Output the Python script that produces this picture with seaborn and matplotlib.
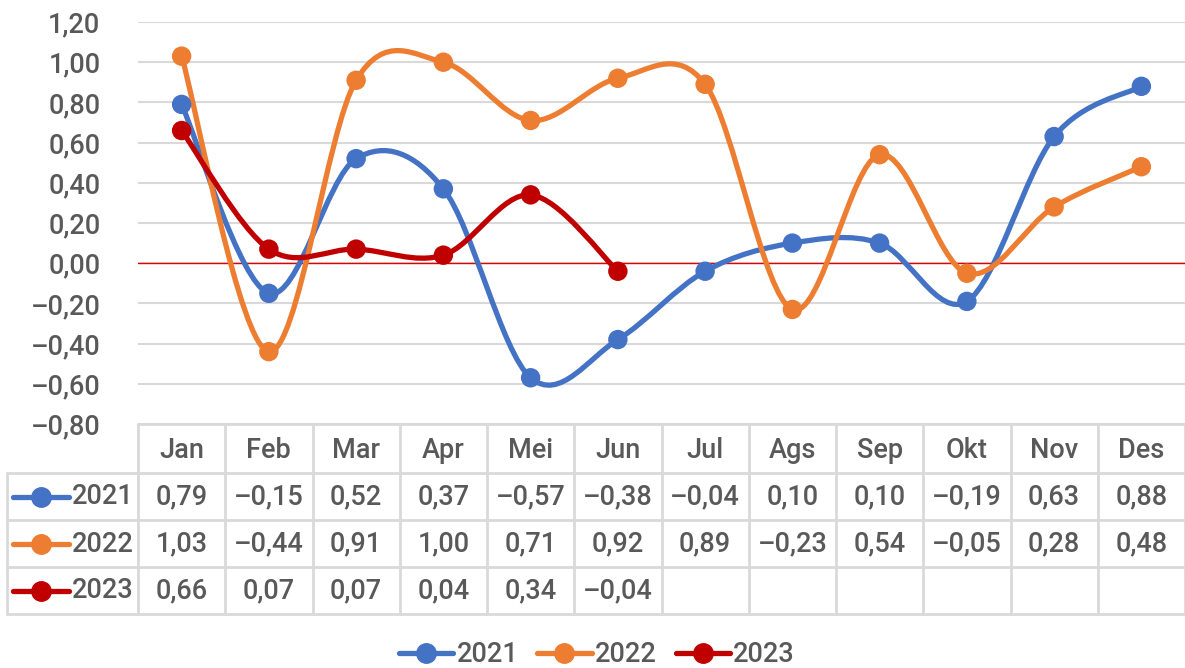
import numpy as np
import pandas as pd
import matplotlib
matplotlib.use("Agg")
import matplotlib.pyplot as plt
import seaborn as sns
from matplotlib.path import Path
from matplotlib.patches import PathPatch
from matplotlib.lines import Line2D

# ---- data ----
months = ["Jan", "Feb", "Mar", "Apr", "Mei", "Jun", "Jul", "Ags", "Sep", "Okt", "Nov", "Des"]
v2021 = [0.79, -0.15, 0.52, 0.37, -0.57, -0.38, -0.04, 0.10, 0.10, -0.19, 0.63, 0.88]
v2022 = [1.03, -0.44, 0.91, 1.00, 0.71, 0.92, 0.89, -0.23, 0.54, -0.05, 0.28, 0.48]
v2023 = [0.66, 0.07, 0.07, 0.04, 0.34, -0.04]
years = ["2021", "2022", "2023"]
series = {"2021": v2021, "2022": v2022, "2023": v2023}
colors = {"2021": "#4472C4", "2022": "#ED7D31", "2023": "#C00000"}

rows = []
for yr in years:
    for i, v in enumerate(series[yr]):
        rows.append({"year": yr, "idx": i, "value": v})
df = pd.DataFrame(rows)

sns.set_theme(style="white")
plt.rcParams["font.family"] = ["Roboto", "DejaVu Sans"]
plt.rcParams["font.weight"] = "medium"
TXT = "#595959"
GRID = "#D9D9D9"
FS = 19.5

W, H = 1185, 668
fig = plt.figure(figsize=(W / 100, H / 100), dpi=100)
# plot area in pixels: x 138..1185, y 22..424
ax = fig.add_axes([138 / W, (H - 424) / H, 1047 / W, 402 / H])


def fmt(v):
    s = f"{abs(v):.2f}".replace(".", ",")
    return ("\u2013" + s) if v < 0 else s


def smooth_path(xs, ys):
    # Excel-like smoothed line: Catmull-Rom converted to cubic Bezier
    pts = np.column_stack([xs, ys])
    verts = [pts[0]]
    codes = [Path.MOVETO]
    n = len(pts)
    for i in range(n - 1):
        p0 = pts[i - 1] if i > 0 else pts[i]
        p1, p2 = pts[i], pts[i + 1]
        p3 = pts[i + 2] if i + 2 < n else pts[i + 1]
        c1 = p1 + (p2 - p0) / 6.0
        c2 = p2 - (p3 - p1) / 6.0
        verts += [c1, c2, p2]
        codes += [Path.CURVE4] * 3
    return Path(verts, codes)


LW = 3.8
MS = 14
for yr in years:
    sub = df[df.year == yr]
    path = smooth_path(sub["idx"].values, sub["value"].values)
    ax.add_patch(PathPatch(path, facecolor="none", edgecolor=colors[yr], lw=LW,
                           capstyle="round", joinstyle="round", zorder=3))

sns.scatterplot(data=df, x="idx", y="value", hue="year", palette=colors, s=MS ** 2,
                edgecolor="none", legend=False, ax=ax, zorder=4)

ax.set_xlim(-0.5, 11.5)
ax.set_ylim(-0.8, 1.2)
yt = np.round(np.arange(-0.8, 1.21, 0.2), 2)
ax.set_yticks(yt)
ax.set_yticklabels([fmt(v) for v in yt], fontsize=FS, color=TXT)
ax.set_xticks([])
ax.set_xlabel("")
ax.set_ylabel("")
ax.tick_params(axis="y", length=0, pad=27)
for s in ax.spines.values():
    s.set_visible(False)
for v in yt:
    ax.axhline(v, color=GRID, lw=1.5, zorder=0)
ax.axhline(0, color="#E00000", lw=1.0, zorder=1)

# ---- data table ----
def fy(py):
    return (H - py) / H


def fx(px):
    return px / W


row_lines = [424, 473, 520, 567, 614]
row_centers = [450, 497, 544, 591]
lkw = dict(color=GRID, lw=2, transform=fig.transFigure, zorder=0)
fig.add_artist(Line2D([fx(138), fx(1185)], [fy(424), fy(424)], **lkw))
for py in row_lines[1:]:
    fig.add_artist(Line2D([fx(7), fx(1185)], [fy(py), fy(py)], **lkw))
fig.add_artist(Line2D([fx(7), fx(7)], [fy(473), fy(614)], **lkw))
xtr = ax.get_xaxis_transform()
for k in range(13):
    ax.plot([k - 0.5, k - 0.5], [0, (424 - 614) / 402], color=GRID, lw=2,
            transform=xtr, clip_on=False, zorder=0)


def ay(py):
    return (424 - py) / 402


for i, m in enumerate(months):
    ax.text(i, ay(row_centers[0]), m, transform=xtr, ha="center", va="center",
            fontsize=FS, color=TXT, clip_on=False)
for r, yr in enumerate(years):
    cy = row_centers[r + 1]
    for i, v in enumerate(series[yr]):
        ax.text(i, ay(cy), fmt(v), transform=xtr, ha="center", va="center",
                fontsize=FS, color=TXT, clip_on=False)
    fig.add_artist(Line2D([fx(13), fx(69)], [fy(cy), fy(cy)], color=colors[yr], lw=LW,
                          solid_capstyle="round", transform=fig.transFigure))
    fig.add_artist(Line2D([fx(41)], [fy(cy)], color=colors[yr], marker="o", markersize=MS,
                          lw=0, transform=fig.transFigure))
    fig.text(fx(72), fy(cy), yr, ha="left", va="center", fontsize=FS, color=TXT)

# ---- legend ----
handles = [Line2D([], [], color=colors[yr], lw=LW, marker="o", markersize=MS,
                  solid_capstyle="round") for yr in years]
fig.legend(handles, years, loc="center", bbox_to_anchor=(fx(597), fy(655)), ncol=3,
           frameon=False, fontsize=FS, labelcolor=TXT, handlelength=2.0,
           handletextpad=0.12, columnspacing=0.7)

fig.savefig("out.png", dpi=100)
